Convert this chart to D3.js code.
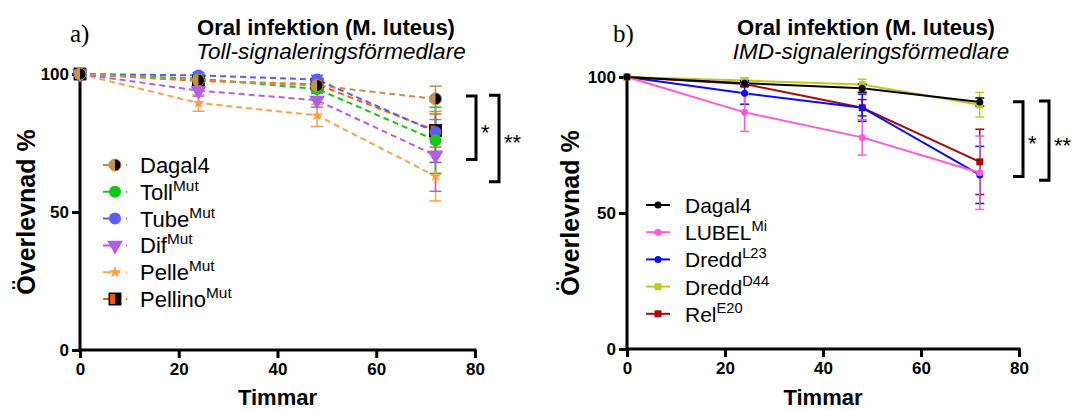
<!DOCTYPE html>
<html><head><meta charset="utf-8">
<script src="https://cdn.jsdelivr.net/npm/d3@7"></script>
<style>body{margin:0;background:#fff}svg{display:block}text{font-family:Arial,"Liberation Sans",sans-serif}</style>
</head><body>
<svg id="c" width="1078" height="410"></svg>
<script>
const hours = [0, 24, 48, 72];
const xTicks = [0, 20, 40, 60, 80];
const yTicks = [0, 50, 100];

// Panel a) Toll
const seriesNamesA = ["Dagal4", "Toll", "Tube", "Dif", "Pelle", "Pellino"];
const supA = ["", "Mut", "Mut", "Mut", "Mut", "Mut"];
const dagal4A = [100, 97.8, 95.8, 91.0];
const dagal4AErr = [0, 1.5, 2, 4.6];
const tollA = [100, 98.3, 94.6, 76.0];
const tollAErr = [0, 1, 1.5, 12];
const tubeA = [100, 99.5, 98.0, 79.0];
const tubeAErr = [0, 1, 1.5, 11];
const difA = [100, 94.0, 90.5, 70.5];
const difAErr = [0, 2, 2.5, 13];
const pelleA = [100, 89.5, 85.0, 63.0];
const pelleAErr = [0, 3, 4, 9];
const pellinoA = [100, 97.5, 96.3, 79.5];
const pellinoAErr = [0, 1.5, 2, 6];

// Panel b) IMD
const seriesNamesB = ["Dagal4", "LUBEL", "Dredd", "Dredd", "Rel"];
const supB = ["", "Mi", "L23", "D44", "E20"];
const dagal4B = [100, 97.7, 95.9, 90.8];
const dagal4BErr = [0, 1, 1.5, 1.5];
const lubelB = [100, 87.0, 77.8, 64.8];
const lubelBErr = [0, 7, 6.5, 13.5];
const dreddL23B = [100, 94.0, 88.7, 64.0];
const dreddL23BErr = [0, 4, 5, 10.5];
const dreddD44B = [100, 98.7, 97.2, 89.8];
const dreddD44BErr = [0, 1, 2, 4.5];
const relE20B = [100, 97.4, 88.7, 68.8];
const relE20BErr = [0, 1, 3, 12];

const svg = d3.select("#c");

function panel(cfg) {
  const x = d3.scaleLinear().domain([0, 80]).range([cfg.x0, cfg.x1]);
  const y = d3.scaleLinear().domain([0, 100]).range([cfg.y0, cfg.y1]);
  const g = svg.append("g");

  // axes
  const ax = g.append("g").attr("transform", `translate(0,${cfg.y0})`)
    .call(d3.axisBottom(x).tickValues(xTicks).tickSize(8).tickPadding(5).tickSizeOuter(0));
  const ay = g.append("g").attr("transform", `translate(${cfg.x0},0)`)
    .call(d3.axisLeft(y).tickValues(yTicks).tickSize(8).tickPadding(3).tickSizeOuter(0));
  [ax, ay].forEach(a => {
    a.attr("font-size", null).attr("font-family", null);
    a.select(".domain").attr("stroke", "#000").attr("stroke-width", 3);
    a.selectAll(".tick line").attr("stroke", "#000").attr("stroke-width", 3);
    a.selectAll(".tick text").attr("fill", "#000").style("font-size", "17px").style("font-weight", "bold");
  });
  ax.select(".domain").attr("d", `M${cfg.x0 - 1.5},0H${cfg.x1 + 1.5}`);
  ay.select(".domain").attr("d", `M0,${cfg.y0 + 1.5}V${cfg.y1}`);

  // axis titles
  g.append("text").attr("x", (cfg.x0 + cfg.x1) / 2).attr("y", 405).attr("text-anchor", "middle")
    .style("font-size", "22px").style("font-weight", "bold").text("Timmar");
  g.append("text").attr("transform", `translate(${cfg.ylx},${(cfg.y0 + cfg.y1) / 2}) rotate(-90)`)
    .attr("text-anchor", "middle").style("font-size", "25px").style("font-weight", "bold").text("Överlevnad %");

  // titles
  g.append("text").attr("x", cfg.labX).attr("y", 42).style("font-family", "'Liberation Serif','Times New Roman',serif")
    .style("font-size", "25px").text(cfg.label);
  g.append("text").attr("x", cfg.tx).attr("y", 35).attr("text-anchor", "middle")
    .style("font-size", "22px").style("font-weight", "bold").text("Oral infektion (M. luteus)");
  g.append("text").attr("x", cfg.tx + 5).attr("y", 59).attr("text-anchor", "middle")
    .style("font-size", "22.5px").style("font-style", "italic").text(cfg.subtitle);

  // series (draw in reverse so the first is on top)
  const series = cfg.series.slice().reverse();
  const line = d3.line().x((d, i) => x(hours[i])).y(d => y(d));
  series.forEach(s => {
    g.append("path").attr("d", line(s.values)).attr("fill", "none").attr("stroke", s.color)
      .attr("stroke-width", cfg.lw).attr("stroke-dasharray", cfg.dash || null);
  });
  series.forEach(s => {
    s.values.forEach((v, i) => {
      const e = s.err[i];
      if (!e) return;
      const cx = x(hours[i]);
      const eg = g.append("g").attr("stroke", s.color).attr("stroke-width", 1.5);
      eg.append("line").attr("x1", cx).attr("x2", cx).attr("y1", y(v + e)).attr("y2", y(v - e));
      [v + e, v - e].forEach(w => eg.append("line").attr("x1", cx - cfg.cap).attr("x2", cx + cfg.cap).attr("y1", y(w)).attr("y2", y(w)));
    });
  });
  series.forEach(s => {
    s.values.forEach((v, i) => marker(g, s, x(hours[i]), y(v), cfg.ms));
  });

  // legend
  cfg.series.forEach((s, i) => {
    const ly = cfg.legY + i * cfg.legStep;
    g.append("line").attr("x1", cfg.legX - 12).attr("x2", cfg.legX + 12).attr("y1", ly).attr("y2", ly)
      .attr("stroke", s.color).attr("stroke-width", cfg.lw).attr("stroke-dasharray", cfg.dash ? "8,6,3,6" : null);
    marker(g, s, cfg.legX, ly, cfg.ms);
    const t = g.append("text").attr("x", cfg.legTx).attr("y", ly + 8).style("font-size", cfg.legFs + "px").text(s.name);
    if (s.sup) t.append("tspan").attr("dy", -9).style("font-size", (cfg.legFs * 0.7) + "px").text(s.sup);
  });

  // significance brackets
  cfg.sig.forEach(b => {
    const yt = y(b.from), yb = y(b.to);
    g.append("path").attr("d", `M${b.x},${yt}H${b.x + 10}V${yb}H${b.x}`).attr("fill", "none")
      .attr("stroke", "#000").attr("stroke-width", 3);
    g.append("text").attr("x", b.x + 15).attr("y", (yt + yb) / 2 + 12).style("font-size", "22px").text(b.label);
  });
}

function marker(g, s, cx, cy, r) {
  const k = s.shape;
  if (k === "half") {
    g.append("circle").attr("cx", cx).attr("cy", cy).attr("r", r).attr("fill", s.color);
    g.append("path").attr("d", `M${cx},${cy - r}A${r},${r} 0 0 1 ${cx},${cy + r}Z`).attr("fill", "#000");
    g.append("circle").attr("cx", cx).attr("cy", cy).attr("r", r).attr("fill", "none").attr("stroke", s.color).attr("stroke-width", 1);
  } else if (k === "circle") {
    g.append("circle").attr("cx", cx).attr("cy", cy).attr("r", r).attr("fill", s.color);
  } else if (k === "tri") {
    g.append("path").attr("transform", `translate(${cx},${cy}) rotate(180)`)
      .attr("d", d3.symbol(d3.symbolTriangle, r * r * 3.0)()).attr("fill", s.color);
  } else if (k === "star") {
    g.append("path").attr("transform", `translate(${cx},${cy})`)
      .attr("d", d3.symbol(d3.symbolStar, r * r * 1.3)()).attr("fill", s.color);
  } else if (k === "halfsq") {
    const h = r * 0.95;
    g.append("rect").attr("x", cx - h).attr("y", cy - h).attr("width", h).attr("height", 2 * h).attr("fill", s.color);
    g.append("rect").attr("x", cx).attr("y", cy - h).attr("width", h).attr("height", 2 * h).attr("fill", "#000");
    g.append("rect").attr("x", cx - h).attr("y", cy - h).attr("width", 2 * h).attr("height", 2 * h).attr("fill", "none").attr("stroke", "#000").attr("stroke-width", 1.5);
  } else if (k === "square") {
    g.append("rect").attr("x", cx - r).attr("y", cy - r).attr("width", 2 * r).attr("height", 2 * r).attr("fill", s.color);
  }
}

panel({
  x0: 80, x1: 475, y0: 350, y1: 74, ylx: 35, labX: 70, tx: 326,
  label: "a)", subtitle: "Toll-signaleringsförmedlare",
  lw: 2, dash: "6,4", cap: 6, ms: 6,
  legX: 115, legTx: 140, legY: 165, legStep: 26.8, legFs: 22,
  series: [
    { name: seriesNamesA[0], sup: supA[0], values: dagal4A, err: dagal4AErr, color: "#c4904c", shape: "half" },
    { name: seriesNamesA[1], sup: supA[1], values: tollA, err: tollAErr, color: "#14c814", shape: "circle" },
    { name: seriesNamesA[2], sup: supA[2], values: tubeA, err: tubeAErr, color: "#5c5cf5", shape: "circle" },
    { name: seriesNamesA[3], sup: supA[3], values: difA, err: difAErr, color: "#b45ee6", shape: "tri" },
    { name: seriesNamesA[4], sup: supA[4], values: pelleA, err: pelleAErr, color: "#ffa046", shape: "star" },
    { name: seriesNamesA[5], sup: supA[5], values: pellinoA, err: pellinoAErr, color: "#ff5a0a", shape: "halfsq" }
  ],
  sig: [
    { from: 92, to: 69, x: 466, label: "*" },
    { from: 92.3, to: 61, x: 489, label: "**" }
  ]
});

panel({
  x0: 627, x1: 1019, y0: 349, y1: 77, ylx: 579, labX: 613, tx: 866,
  label: "b)", subtitle: "IMD-signaleringsförmedlare",
  lw: 2, dash: null, cap: 4.5, ms: 3.5,
  legX: 658, legTx: 685, legY: 205, legStep: 27.2, legFs: 21,
  series: [
    { name: seriesNamesB[0], sup: supB[0], values: dagal4B, err: dagal4BErr, color: "#000000", shape: "circle" },
    { name: seriesNamesB[1], sup: supB[1], values: lubelB, err: lubelBErr, color: "#ff5ad2", shape: "circle" },
    { name: seriesNamesB[2], sup: supB[2], values: dreddL23B, err: dreddL23BErr, color: "#0a0aff", shape: "circle" },
    { name: seriesNamesB[3], sup: supB[3], values: dreddD44B, err: dreddD44BErr, color: "#c8c814", shape: "square" },
    { name: seriesNamesB[4], sup: supB[4], values: relE20B, err: relE20BErr, color: "#aa0a0a", shape: "square" }
  ],
  sig: [
    { from: 90.9, to: 63.4, x: 1013, label: "*" },
    { from: 91.2, to: 62.0, x: 1039, label: "**" }
  ]
});
</script>
</body></html>
